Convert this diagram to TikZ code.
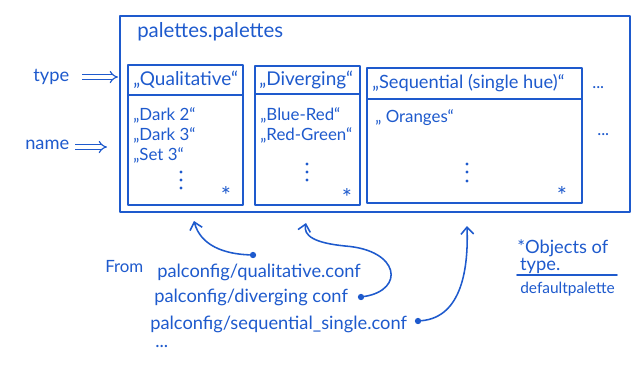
\documentclass[tikz,border=0pt]{standalone}
\usepackage{fontspec}
\setmainfont{Lato}
\usetikzlibrary{arrows.meta}
\definecolor{ink}{RGB}{30,90,205}
\tikzset{
  pen/.style={draw=ink,line width=1.1pt,line cap=round,line join=round},
  txt/.style={text=ink,anchor=west,inner sep=0pt,font=\fontsize{12}{14}\selectfont},
  headtxt/.style={txt,font=\fontsize{13.5}{16}\selectfont},
  bigtxt/.style={txt,font=\fontsize{13}{16}\selectfont},
  implies/.style={draw=ink,line width=0.8pt,double=white,double distance=2.2pt,-{Implies}},
  feed/.style={pen,-{Straight Barb[length=5pt,width=9pt]}},
  pin/.style={circle,fill=ink,inner sep=0pt,minimum size=4.5pt},
  star/.style={text=ink,inner sep=0pt,font=\fontsize{17}{17}\selectfont}
}
\begin{document}
\begin{tikzpicture}[x=0.025cm,y=-0.025cm]
\fill[white] (0,0) rectangle (640,369);
\useasboundingbox (0,0) rectangle (640,369);
   \draw[pen] (120,16) rectangle (630,212);
   \node[bigtxt,font=\fontsize{14.5}{17}\selectfont] at (137,32) (title) {palettes.palettes};
   \draw[pen] (128,65) rectangle (243,205);
   \draw[pen] (128,95) -- (243,95);
   \draw[pen] (255,66) rectangle (360,205);
   \draw[pen] (255,94) -- (360,94);
   \draw[pen] (367,68) rectangle (582,203);
   \draw[pen] (367,99) -- (582,99);
   \node[headtxt] at (133,80) (qual) {„Qualitative“};
   \node[headtxt] at (259,80) (div) {„Diverging“};
   \node[headtxt,font=\fontsize{13}{16}\selectfont] at (372,83) (seq) {„Sequential (single hue)“};
   \node[txt] at (592,88) (more) {...};
   \node[txt] at (597,135) (moreb) {...};
   \node[txt] at (133,115) (dtwo) {„Dark 2“};
   \node[txt] at (133,135) (dthree) {„Dark 3“};
   \node[txt] at (133,155) (sthree) {„Set 3“};
   \foreach \y in {172,180,188} \fill[ink] (181,\y) circle (1.2pt);
   \node[star] at (226,195) (qstar) {*};
   \node[txt] at (260,115) (br) {„Blue-Red“};
   \node[txt] at (260,135) (rg) {„Red-Green“};
   \foreach \y in {164,172,180} \fill[ink] (307,\y) circle (1.2pt);
   \node[star] at (347,197) (dstar) {*};
   \node[txt] at (375,118) (or) {„ Oranges“};
   \foreach \y in {164,172,181} \fill[ink] (467,\y) circle (1.2pt);
   \node[star] at (562,195) (sstar) {*};
   \node[bigtxt] at (33,77) (type) {type};
   \coordinate (typea) at (82,77);
   \coordinate (typeb) at (118,77);
   \draw[implies] (typea) -- (typeb);
   \node[bigtxt] at (25,145) (name) {name};
   \coordinate (namea) at (75,147);
   \coordinate (nameb) at (107,147);
   \draw[implies] (namea) -- (nameb);
   \node[txt] at (105,267) (from) {From};
   \node[bigtxt] at (157,272) (qconf) {palconfig/qualitative.conf};
   \node[bigtxt] at (154,297) (dconf) {palconfig/diverging conf};
   \node[bigtxt] at (150,324) (sconf) {palconfig/sequential\_single.conf};
   \node[bigtxt] at (155,346) (etc) {...};
   \node[pin] at (253,255) (qdot) {};
   \node[pin] at (361,297) (ddot) {};
   \node[pin] at (418,321) (sdot) {};
   \coordinate (qend) at (194,221);
   \coordinate (dend) at (306,223);
   \coordinate (send) at (467,226);
   \draw[feed] (qdot) to[out=178,in=-75] (qend);
   \draw[feed] (ddot) .. controls (405,290) and (400,250) .. (345,246) .. controls (315,243) and (303,236) .. (dend);
   \draw[feed] (sdot) to[out=5,in=-88] (send);
   \node[txt,align=left,font=\fontsize{13}{12}\selectfont] at (517,257) (obj) {*Objects of\\\hspace*{2pt}type.};
   \coordinate (rulea) at (517,275);
   \coordinate (ruleb) at (617,275);
   \draw[pen] (rulea) -- (ruleb);
   \node[txt,font=\fontsize{11}{13}\selectfont] at (520,289) (defpal) {defaultpalette};
\end{tikzpicture}
\end{document}
